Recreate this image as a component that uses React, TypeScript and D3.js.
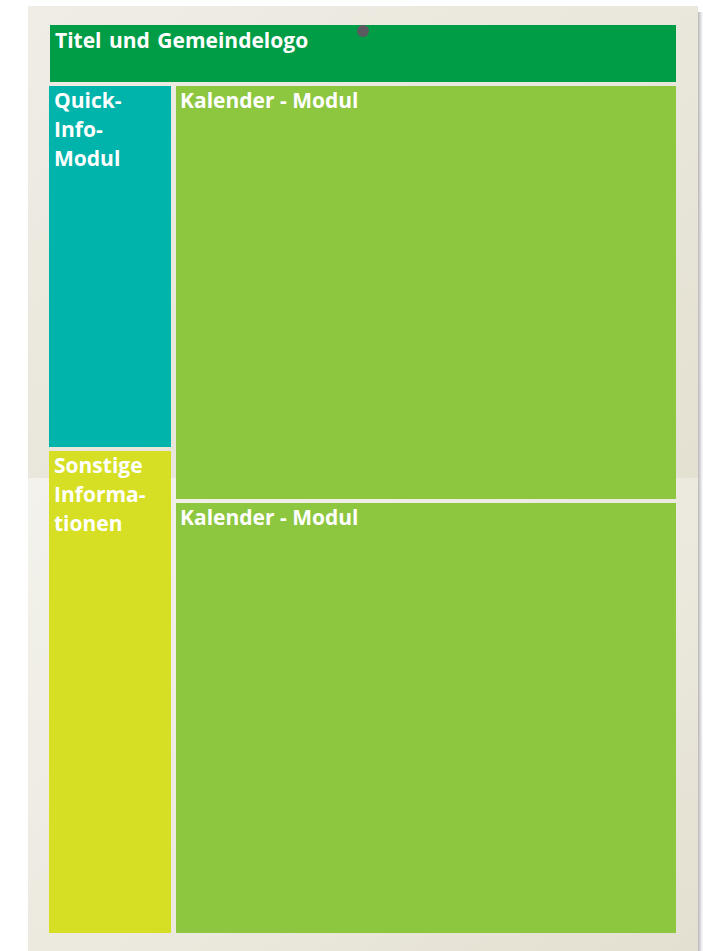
import * as d3 from 'd3';

// module layout of the page (sizes in mm of the poster mock-up, gap included)
const titleLabel = ['Titel und Gemeindelogo'];
const titleHeight = [57];
const columnNames = ['info', 'kalender'];
const columnWidths = [127, 505];
const leftModules = [['Quick-', 'Info-', 'Modul'], ['Sonstige', 'Informa-', 'tionen']];
const leftHeights = [365, 486];
const rightModules = [['Kalender - Modul'], ['Kalender - Modul']];
const rightHeights = [417, 434];

const W = 703;
const H = 951;
const GAP_X = 5;
const GAP_Y = 4;
const COLORS = { title: '#009d46', info: '#00b4ab', other: '#d6df23', kalender: '#8dc63f' };

const App = () => {
  const x0 = 49;
  const x1 = 676;
  const y0 = 25;
  const bodyTop = y0 + titleHeight[0] + GAP_Y;
  const bodyBottom = 933;

  const colX = d3.scaleLinear()
    .domain([0, d3.sum(columnWidths)])
    .range([x0, x1 + GAP_X]);
  const leftY = d3.scaleLinear().domain([0, d3.sum(leftHeights)]).range([bodyTop, bodyBottom + GAP_Y]);
  const rightY = d3.scaleLinear().domain([0, d3.sum(rightHeights)]).range([bodyTop, bodyBottom + GAP_Y]);

  const cumWidths = [0, ...d3.cumsum(columnWidths)];
  const cumLeft = [0, ...d3.cumsum(leftHeights)];
  const cumRight = [0, ...d3.cumsum(rightHeights)];

  const textStyle = {
    fill: '#fff',
    fontFamily: '"Open Sans", sans-serif',
    fontWeight: 700,
    fontSize: 21,
    letterSpacing: 0,
  };

  const columns = [
    { mods: leftModules, cum: cumLeft, y: leftY, fills: [COLORS.info, COLORS.other], pad: 5 },
    { mods: rightModules, cum: cumRight, y: rightY, fills: [COLORS.kalender, COLORS.kalender], pad: 4 },
  ];

  return (
    <svg width={W} height={H} style={{ position: 'absolute', left: 0, top: 0 }}>
      <defs>
        <linearGradient id="paperTop" x1="0" y1="0" x2="1" y2="1">
          <stop offset="0" stopColor="#efede5" />
          <stop offset="1" stopColor="#e4e1d2" />
        </linearGradient>
        <linearGradient id="paperBottom" x1="0" y1="0" x2="1" y2="1">
          <stop offset="0" stopColor="#f3f2ec" />
          <stop offset="0.6" stopColor="#ebe8dd" />
          <stop offset="1" stopColor="#e3e0d1" />
        </linearGradient>
        <linearGradient id="shadow" x1="0" y1="0" x2="1" y2="0">
          <stop offset="0" stopColor="#b8b8bc" />
          <stop offset="1" stopColor="#ffffff" />
        </linearGradient>
      </defs>
      <rect x={698} y={12} width={5} height={H - 12} fill="url(#shadow)" />
      <rect x={28} y={6} width={670} height={472} fill="url(#paperTop)" />
      <rect x={28} y={478} width={670} height={H - 478} fill="url(#paperBottom)" />

      <rect x={50} y={y0} width={x1 - 50} height={titleHeight[0]} fill={COLORS.title} />
      <text x={55} y={y0 + 23} style={{ ...textStyle, wordSpacing: 2 }}>{titleLabel[0]}</text>
      <circle cx={363} cy={31} r={6} fill="#5b5a5f" />

      {columns.map((col, ci) => {
        const left = colX(cumWidths[ci]);
        const width = colX(cumWidths[ci + 1]) - left - GAP_X;
        return (
          <g key={columnNames[ci]} className={columnNames[ci]}>
            {col.mods.map((lines, i) => {
              const top = col.y(col.cum[i]);
              const height = col.y(col.cum[i + 1]) - top - GAP_Y;
              return (
                <g key={i}>
                  <rect x={left} y={top} width={width} height={height} fill={col.fills[i]} />
                  {lines.map((t, j) => (
                    <text key={j} x={left + col.pad} y={top + 22 + j * 29} style={textStyle}>{t}</text>
                  ))}
                </g>
              );
            })}
          </g>
        );
      })}
    </svg>
  );
};

export default App;
